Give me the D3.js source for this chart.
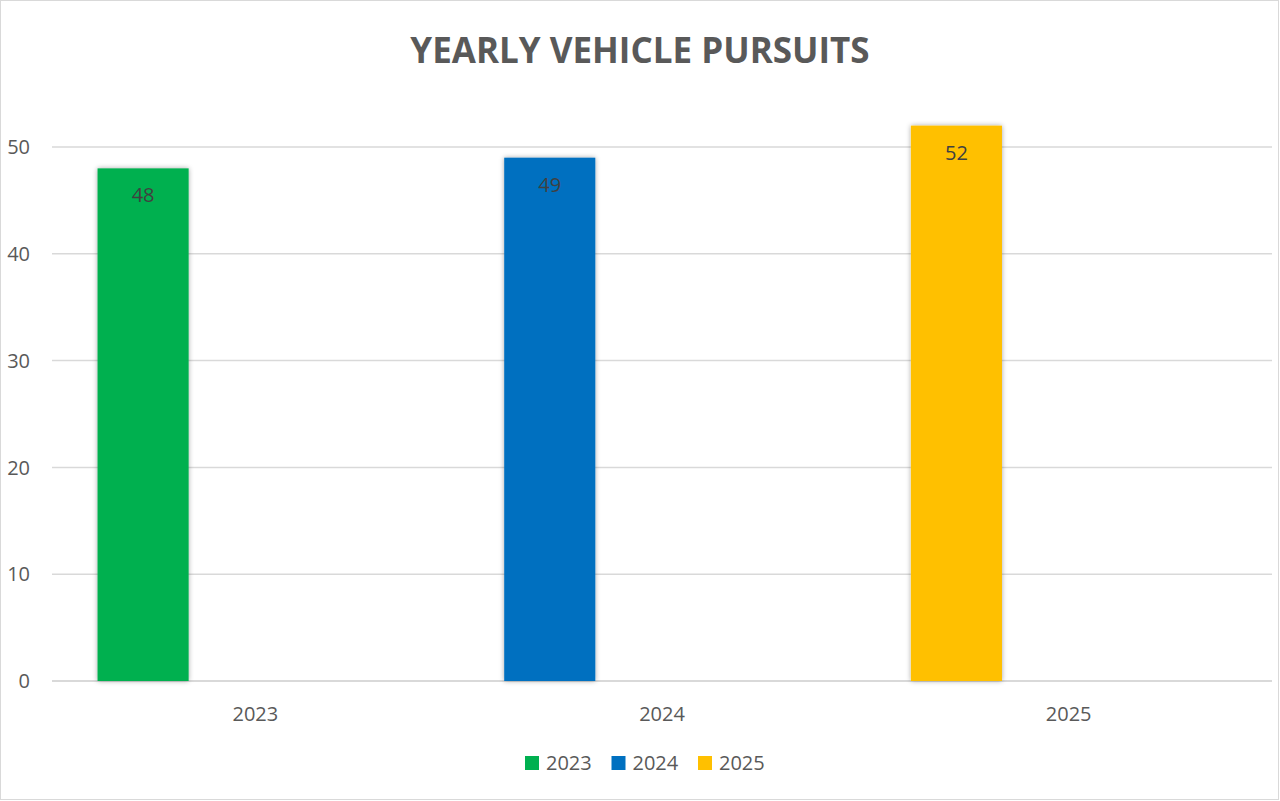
<!DOCTYPE html>
<html>
<head>
<meta charset="utf-8">
<script src="https://cdn.jsdelivr.net/npm/d3@7"></script>
<style>
  body { margin: 0; background: #fff; }
  text { font-family: "Open Sans", "Noto Sans", sans-serif; }
</style>
</head>
<body>
<svg width="1280" height="801"></svg>
<script>
var years = ['2023', '2024', '2025'];
var pursuits = [48, 49, 52];
var colors = ['#00B050', '#0070C0', '#FFC000'];
var yTicks = [0, 10, 20, 30, 40, 50];
var title = 'YEARLY VEHICLE PURSUITS';

var svg = d3.select('svg');
var width = +svg.attr('width'),
    height = +svg.attr('height');
var margin = {top: 147, right: 8, bottom: 120, left: 52};

// chart border
svg.append('rect')
    .attr('x', 0.5).attr('y', 0.5)
    .attr('width', width - 2).attr('height', height - 2)
    .attr('fill', '#fff')
    .attr('stroke', '#d9d9d9');

var defs = svg.append('defs');
var shadow = defs.append('filter').attr('id', 'shadow')
    .attr('x', '-20%').attr('y', '-10%').attr('width', '140%').attr('height', '120%');
shadow.append('feDropShadow')
    .attr('dx', 0).attr('dy', 0).attr('stdDeviation', 2.5)
    .attr('flood-color', '#000').attr('flood-opacity', 0.35);

var x = d3.scaleBand()
    .domain(years)
    .range([margin.left, width - margin.right]);
var y = d3.scaleLinear()
    .domain([0, 50])
    .range([681, 147]);

// gridlines
svg.append('g').selectAll('line')
    .data(yTicks).enter().append('line')
    .attr('x1', margin.left)
    .attr('x2', width - margin.right)
    .attr('y1', function(d) { return y(d); })
    .attr('y2', function(d) { return y(d); })
    .attr('stroke', '#d9d9d9')
    .attr('stroke-width', function(d) { return d === 0 ? 2 : 1.5; });

// y labels
svg.append('g').selectAll('text')
    .data(yTicks).enter().append('text')
    .attr('x', 30)
    .attr('y', function(d) { return y(d); })
    .attr('dy', '0.36em')
    .attr('text-anchor', 'end')
    .attr('font-size', 20)
    .attr('fill', '#595959')
    .text(function(d) { return d; });

// x labels
svg.append('g').selectAll('text')
    .data(years).enter().append('text')
    .attr('x', function(d) { return x(d) + x.bandwidth() / 2; })
    .attr('y', 714)
    .attr('dy', '0.36em')
    .attr('text-anchor', 'middle')
    .attr('font-size', 20)
    .attr('fill', '#595959')
    .text(function(d) { return d; });

// bars sit in the first slot of each category
var barOffset = x.bandwidth() * 0.112,
    barWidth = x.bandwidth() * 0.224;

var bars = svg.append('g').selectAll('g')
    .data(years).enter().append('g');

bars.append('rect')
    .attr('x', function(d) { return x(d) + barOffset; })
    .attr('y', function(d, i) { return y(pursuits[i]); })
    .attr('width', barWidth)
    .attr('height', function(d, i) { return y(0) - y(pursuits[i]); })
    .attr('fill', function(d, i) { return colors[i]; })
    .attr('filter', 'url(#shadow)');

bars.append('text')
    .attr('x', function(d) { return x(d) + barOffset + barWidth / 2; })
    .attr('y', function(d, i) { return y(pursuits[i]) + 34; })
    .attr('text-anchor', 'middle')
    .attr('font-size', 20)
    .attr('fill', '#404040')
    .text(function(d, i) { return pursuits[i]; });

// title
svg.append('text')
    .attr('x', 640)
    .attr('y', 63)
    .attr('text-anchor', 'middle')
    .attr('font-size', 35)
    .attr('font-weight', 'bold')
    .attr('fill', '#595959')
    .text(title);

// legend
var legend = svg.append('g').selectAll('g')
    .data(years).enter().append('g')
    .attr('transform', function(d, i) { return 'translate(' + (525 + i * 86.5) + ',756)'; });
legend.append('rect')
    .attr('width', 14).attr('height', 14)
    .attr('fill', function(d, i) { return colors[i]; });
legend.append('text')
    .attr('x', 21)
    .attr('y', 7)
    .attr('dy', '0.36em')
    .attr('font-size', 20)
    .attr('fill', '#595959')
    .text(function(d) { return d; });
</script>
</body>
</html>
